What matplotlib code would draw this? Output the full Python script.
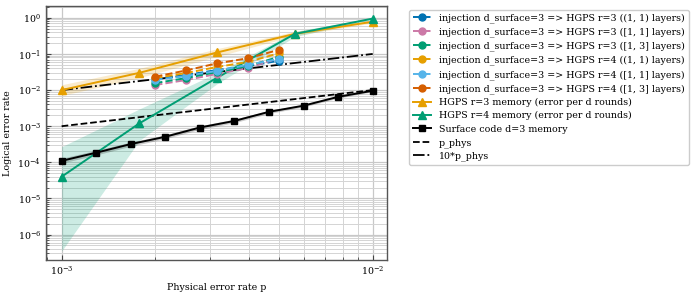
import numpy as np
import matplotlib
matplotlib.use("Agg")
import matplotlib.pyplot as plt

plt.rcParams["font.family"] = "DejaVu Serif"
plt.rcParams["font.size"] = 6.8

# ---- data ----
p_inj = [2.0e-3, 2.515e-3, 3.162e-3, 3.976e-3, 5.0e-3]
inj_r3_11_tuple = [0.0204, 0.026, 0.036, 0.046, 0.065]
inj_r3_11_list = [0.0138, 0.019, 0.028, 0.041, 0.077]
inj_r3_13_list = [0.0156, 0.0215, 0.0316, 0.046, 0.084]
inj_r4_11_tuple = [0.0215, 0.0297, 0.0436, 0.060, 0.105]
inj_r4_11_list = [0.019, 0.0245, 0.034, 0.050, 0.073]
inj_r4_13_list = [0.0235, 0.035, 0.055, 0.076, 0.13]

p_hgps = [1.0e-3, 1.778e-3, 3.162e-3, 5.623e-3, 1.0e-2]
hgps_r3 = [1.0e-2, 3.0e-2, 0.11, 0.36, 0.78]
hgps_r3_lo = [7.0e-3, 2.2e-2, 0.085, 0.32, 0.72]
hgps_r3_hi = [1.4e-2, 4.0e-2, 0.14, 0.42, 0.84]
hgps_r4 = [4.0e-5, 1.2e-3, 2.2e-2, 0.36, 0.95]
hgps_r4_lo = [3.5e-7, 4.0e-4, 1.5e-2, 0.30, 0.90]
hgps_r4_hi = [2.7e-4, 3.0e-3, 3.0e-2, 0.42, 1.0]

p_surf = [1.0e-3, 1.292e-3, 1.668e-3, 2.154e-3, 2.783e-3,
          3.594e-3, 4.642e-3, 5.995e-3, 7.743e-3, 1.0e-2]
surf = [1.1e-4, 1.85e-4, 3.2e-4, 5.1e-4, 9.2e-4,
        1.4e-3, 2.5e-3, 3.7e-3, 6.5e-3, 9.6e-3]
surf_lo = [0.95e-4, 1.6e-4, 2.8e-4, 4.5e-4, 8.2e-4,
           1.25e-3, 2.25e-3, 3.4e-3, 6.0e-3, 9.0e-3]
surf_hi = [1.3e-4, 2.15e-4, 3.65e-4, 5.8e-4, 1.03e-3,
           1.57e-3, 2.75e-3, 4.0e-3, 7.0e-3, 1.02e-2]

p_ref = [1.0e-3, 1.0e-2]

inj_labels = [
    "injection d_surface=3 => HGPS r=3 ((1, 1) layers)",
    "injection d_surface=3 => HGPS r=3 ([1, 1] layers)",
    "injection d_surface=3 => HGPS r=3 ([1, 3] layers)",
    "injection d_surface=3 => HGPS r=4 ((1, 1) layers)",
    "injection d_surface=3 => HGPS r=4 ([1, 1] layers)",
    "injection d_surface=3 => HGPS r=4 ([1, 3] layers)",
]
inj_colors = ["#0072B2", "#CC79A7", "#009E73", "#E69F00", "#56B4E9", "#D55E00"]

# ---- figure ----
fig = plt.figure(figsize=(6.98, 2.94), dpi=100)
ax = fig.add_axes([0.066, 0.116, 0.488, 0.864])

inj_series = [inj_r3_11_tuple, inj_r3_11_list, inj_r3_13_list,
              inj_r4_11_tuple, inj_r4_11_list, inj_r4_13_list]
for vals, lab, col in zip(inj_series, inj_labels, inj_colors):
    ax.plot(p_inj, vals, "--o", color=col, lw=1.4, ms=5, label=lab, zorder=4)

ax.fill_between(p_hgps, hgps_r3_lo, hgps_r3_hi, color="#E69F00", alpha=0.2, lw=0)
ax.plot(p_hgps, hgps_r3, "-^", color="#E69F00", lw=1.4, ms=5.5,
        label="HGPS r=3 memory (error per d rounds)", zorder=3)
ax.fill_between(p_hgps, hgps_r4_lo, hgps_r4_hi, color="#009E73", alpha=0.2, lw=0)
ax.plot(p_hgps, hgps_r4, "-^", color="#009E73", lw=1.4, ms=5.5,
        label="HGPS r=4 memory (error per d rounds)", zorder=3)
ax.fill_between(p_surf, surf_lo, surf_hi, color="black", alpha=0.2, lw=0)
ax.plot(p_surf, surf, "-s", color="black", lw=1.4, ms=5,
        label="Surface code d=3 memory", zorder=3)
ax.plot(p_ref, p_ref, "--", color="black", lw=1.3, label="p_phys")
ax.plot(p_ref, [10 * v for v in p_ref], "-.", color="black", lw=1.3, label="10*p_phys")

ax.set_xscale("log")
ax.set_yscale("log")
ax.set_xlim(10 ** -3.05, 10 ** -1.955)
ax.set_ylim(10 ** -6.7, 10 ** 0.33)
ax.grid(which="major", color="#c8c8c8", lw=0.9)
ax.grid(which="minor", color="#d4d4d4", lw=0.7)
ax.set_axisbelow(True)
ax.tick_params(which="both", direction="in", color="#444444")
for s in ax.spines.values():
    s.set_color("#555555")
    s.set_linewidth(1.0)

ax.set_xlabel("Physical error rate p", labelpad=4)
ax.set_ylabel("Logical error rate", labelpad=4)

leg = ax.legend(loc="upper left", bbox_to_anchor=(1.065, 0.985), fontsize=6.8,
                frameon=True, framealpha=1, edgecolor="#cccccc",
                handlelength=2.0, labelspacing=0.45, borderaxespad=0)

fig.savefig("out.png", dpi=100)
